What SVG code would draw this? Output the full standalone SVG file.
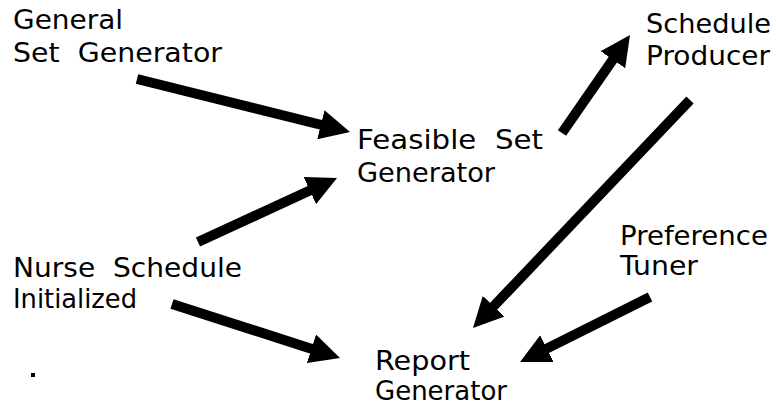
<svg xmlns="http://www.w3.org/2000/svg" width="776" height="413" viewBox="0 0 776 413">
  <style>
    .lbl { font-family: "DejaVu Sans", "Liberation Sans", sans-serif; font-size: 27px; fill: #000; white-space: pre; }
    .arrow { stroke: #000; stroke-width: 10; stroke-linecap: butt; fill: none; marker-end: url(#head); }
  </style>
  <defs>
    <marker id="head" viewBox="0 0 10 10" refX="1" refY="5" markerWidth="3" markerHeight="3" markerUnits="strokeWidth" orient="auto">
      <path d="M0,0 L10,5 L0,10 z" fill="#000"/>
    </marker>
  </defs>
  <rect width="776" height="413" fill="#fff"/>

  <g id="connectors">
    <line class="arrow" x1="137" y1="79" x2="323.8" y2="125.5"/>
    <line class="arrow" x1="198" y1="242" x2="312.5" y2="189.3"/>
    <line class="arrow" x1="562" y1="133" x2="614.6" y2="57.2"/>
    <line class="arrow" x1="690" y1="100" x2="491.6" y2="308.4"/>
    <line class="arrow" x1="172" y1="304" x2="314.3" y2="349.7"/>
    <line class="arrow" x1="650" y1="297" x2="544.2" y2="349.9"/>
  </g>

  <g id="general-set-generator">
    <text class="lbl" x="13" y="29" textLength="110" lengthAdjust="spacingAndGlyphs">General</text>
    <text class="lbl" x="13" y="62" textLength="209" lengthAdjust="spacingAndGlyphs">Set  Generator</text>
  </g>
  <g id="schedule-producer">
    <text class="lbl" x="646" y="33" textLength="125" lengthAdjust="spacingAndGlyphs">Schedule</text>
    <text class="lbl" x="646" y="65" textLength="124" lengthAdjust="spacingAndGlyphs">Producer</text>
  </g>
  <g id="feasible-set-generator">
    <text class="lbl" x="357" y="149" textLength="186" lengthAdjust="spacingAndGlyphs">Feasible  Set</text>
    <text class="lbl" x="357" y="182" textLength="138" lengthAdjust="spacingAndGlyphs">Generator</text>
  </g>
  <g id="nurse-schedule-initialized">
    <text class="lbl" x="13" y="277" textLength="229" lengthAdjust="spacingAndGlyphs">Nurse  Schedule</text>
    <text class="lbl" x="13" y="308" textLength="124" lengthAdjust="spacingAndGlyphs">Initialized</text>
  </g>
  <g id="preference-tuner">
    <text class="lbl" x="620" y="245" textLength="148" lengthAdjust="spacingAndGlyphs">Preference</text>
    <text class="lbl" x="620" y="275" textLength="78" lengthAdjust="spacingAndGlyphs">Tuner</text>
  </g>
  <g id="report-generator">
    <text class="lbl" x="375" y="370" textLength="95" lengthAdjust="spacingAndGlyphs">Report</text>
    <text class="lbl" x="375" y="400" textLength="132" lengthAdjust="spacingAndGlyphs">Generator</text>
  </g>

  <rect x="31" y="373" width="4" height="4" fill="#000"/>
</svg>
